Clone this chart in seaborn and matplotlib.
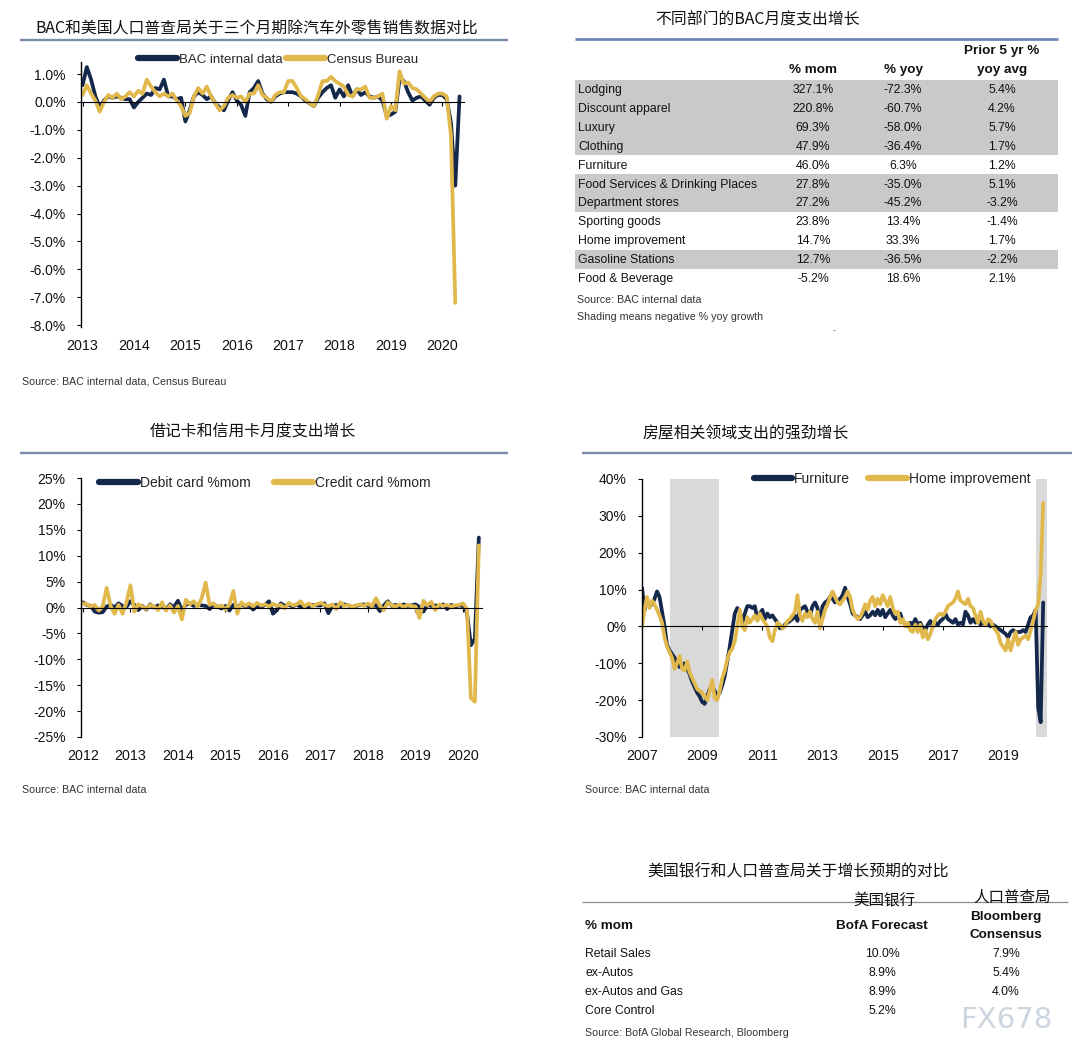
#!/usr/bin/env python3
"""
BAC card spending dashboard: four panels + two small tables, one figure
"""

import numpy as np
import pandas as pd
import matplotlib
matplotlib.use('Agg')
import matplotlib.pyplot as plt
from matplotlib.patches import Rectangle
import seaborn as sns

# ---------------- data ----------------
# panel 1: 3m ex-autos retail sales, Jan 2013 onwards, monthly (%)
bac_3m = [0.6, 1.25, 0.8, 0.2, -0.2, 0.05, 0.2, 0.15, 0.2, 0.15, 0.1, 0.1,
          -0.2, 0.0, 0.15, 0.3, 0.25, 0.5, 0.45, 0.8, 0.2, 0.2, 0.1, 0.15,
          -0.7, -0.3, 0.2, 0.35, 0.25, 0.1, 0.2, -0.05, -0.2, -0.3, 0.05, 0.35,
          0.05, -0.1, -0.5, 0.35, 0.5, 0.75, 0.3, 0.1, 0.0, 0.2, 0.3, 0.35,
          0.35, 0.35, 0.3, 0.2, 0.05, -0.05, -0.15, 0.15, 0.35, 0.5, 0.6, 0.15,
          0.45, 0.2, 0.6, 0.2, 0.45, 0.25, 0.35, 0.2, 0.15, 0.2, 0.05, -0.5,
          -0.45, -0.35, 0.8, 0.75, 0.35, 0.05, 0.15, 0.2, 0.05, -0.1, 0.15, 0.25,
          0.25, 0.1, -0.75, -3.0, 0.2]
census_3m = [0.25, 0.6, 0.3, 0.05, -0.35, 0.0, 0.25, 0.15, 0.3, 0.1, 0.2, 0.35,
             0.2, 0.4, 0.3, 0.8, 0.55, 0.35, 0.2, 0.3, 0.2, 0.3, 0.05, -0.15,
             -0.5, -0.4, 0.2, 0.5, 0.3, 0.55, 0.2, -0.05, -0.3, -0.15, 0.15, 0.25,
             0.15, 0.2, 0.0, 0.3, 0.3, 0.6, 0.25, 0.15, 0.0, 0.25, 0.35, 0.35,
             0.75, 0.75, 0.5, 0.2, 0.1, -0.05, -0.15, 0.25, 0.75, 0.75, 0.9, 0.75,
             0.65, 0.55, 0.25, 0.2, 0.45, 0.45, 0.55, 0.15, 0.15, 0.2, 0.3, -0.6,
             -0.15, -0.3, 1.1, 0.65, 0.7, 0.5, 0.45, 0.3, 0.15, 0.0, 0.2, 0.3,
             0.3, 0.2, -1.2, -7.2]
p1_years = list(range(2013, 2021))

# panel 3: card spending %mom, Jan 2012 onwards
debit_mom = [1.0, 0.5, 0.3, -0.8, -1.0, -0.9, 0.2, 0.5, 0.0, 0.8, 0.3, 0.1,
             1.2, 0.5, -0.5, 0.3, -0.4, 0.6, 0.0, 0.4, 0.2, -0.4, 0.6, 0.1,
             1.3, -0.5, 0.5, 0.8, 0.3, 0.6, 0.4, 0.3, -0.3, 0.5, 0.2, -0.2,
             0.3, -0.6, 0.5, 0.0, 0.6, 0.2, 0.4, -0.4, 0.3, 0.1, 0.5, 1.2,
             -1.2, -0.5, 0.8, 0.3, 0.5, 0.2, 0.6, 0.1, 0.3, 0.2, 0.5, 0.4,
             0.4, 0.8, -1.1, 0.3, 0.5, 0.2, 0.6, 0.4, 0.1, 0.3, 0.5, 0.6,
             0.3, 0.2, 0.5, -0.7, 0.4, 1.2, 0.3, 0.5, 0.2, 0.6, 0.3, 0.4,
             0.6, 0.1, -0.8, 0.5, 0.3, 0.4, 0.2, 0.6, -0.3, 0.5, 0.2, 0.4,
             0.3, -1.0, -7.3, -6.0, 13.5]
credit_mom = [0.8, 0.6, 0.2, 0.5, -0.6, 0.2, 3.8, 0.3, -1.2, 0.5, -1.2, 1.0,
              4.3, -0.8, 0.6, 0.2, -0.3, 0.5, 0.2, -0.5, 1.0, -0.6, 0.4, -1.0,
              0.3, -2.3, 1.5, 0.6, 1.2, 0.2, 1.8, 4.8, 0.5, 0.8, 0.0, 0.4,
              -0.4, 0.6, 3.2, -1.2, 1.0, 0.3, 0.8, 0.2, 0.9, 0.4, 0.6, 0.2,
              0.7, 0.3, 0.5, -0.2, 0.9, 0.4, 0.6, 1.2, 0.2, 0.8, 0.3, 0.6,
              0.9, 0.5, 0.2, 0.6, -0.3, 1.0, 0.3, 0.5, 0.1, 0.4, 0.6, 0.3,
              0.8, 0.2, 1.8, 0.3, -0.5, 1.0, 0.4, 0.2, 0.6, 0.1, 0.5, 0.3,
              0.2, -2.0, 1.3, 0.4, 1.1, -0.5, 0.6, 0.3, 0.5, 0.2, 0.4, 0.5,
              0.8, -0.3, -17.5, -18.2, 12.0]
p3_years = list(range(2012, 2021))

# panel 4: housing related spending %yoy, Jan 2007 onwards
furniture_yoy = [10.5, 4.5, 7.0, 5.5, 6.0, 7.5, 9.5, 8.0, 4.0, 0.0, -5.0, -6.5,
                 -7.5, -8.5, -10.0, -11.0, -10.5, -10.0, -11.5, -13.0, -15.0, -16.5, -18.0, -19.0,
                 -20.5, -21.0, -19.0, -17.0, -16.5, -17.5, -19.0, -18.0, -16.0, -13.5, -9.5, -5.5,
                 -1.0, 3.5, 5.0, 4.0, 1.0, 3.5, 5.5, 5.5, 5.0, 5.5, 2.0, 3.5,
                 4.5, 2.0, 3.5, 2.5, 3.0, 2.0, 1.0, -0.5, -0.5, 0.5, 1.0, 1.5,
                 2.0, 3.0, 1.5, 4.5, 5.0, 5.5, 4.0, 3.0, 5.5, 6.5, 5.0, 0.5,
                 5.5, 6.5, 7.0, 8.0, 7.5, 6.5, 7.0, 7.5, 8.5, 10.5, 8.0, 6.0,
                 3.5, 3.0, 2.5, 2.0, 3.0, 4.0, 2.5, 3.0, 4.0, 3.0, 4.5, 3.0,
                 4.5, 2.5, 3.5, 4.5, 3.0, 2.0, 2.5, 3.5, 1.5, 0.5, 0.0, 1.0,
                 0.5, 2.0, 0.5, 1.0, -0.5, -1.0, 0.5, 1.5, 0.0, 1.0, 0.5, 1.5,
                 2.0, 3.5, 2.0, 1.5, 1.0, 2.0, 0.5, 1.0, 0.5, 4.0, 3.0, 1.0,
                 2.0, 1.0, 2.5, 0.5, 1.0, 0.5, 1.0, 0.0, 0.5, 0.0, -0.5, -1.0,
                 -1.5, -2.0, -3.0, -1.5, -1.0, -1.5, -1.5, -1.5, -1.0, -1.5, 0.5, 2.5,
                 3.0, 4.5, -22.0, -26.0, 6.5]
home_impr_yoy = [0.0, 4.5, 8.0, 5.0, 7.0, 6.0, 4.5, 3.0, 1.0, -3.0, -5.5, -7.0,
                 -8.5, -11.5, -10.0, -8.0, -11.5, -12.0, -9.5, -12.5, -14.0, -15.5, -17.0, -17.5,
                 -18.0, -19.0, -20.0, -17.5, -14.5, -19.5, -20.0, -17.5, -14.0, -12.0, -9.0, -7.0,
                 -6.0, -4.0, 0.0, 4.5, 0.0, -1.0, 2.5, 1.0, 2.0, 3.0, 1.5, 3.5,
                 2.0, 1.0, 0.0, -3.0, -4.0, -1.0, 1.0, 0.5, -0.5, 0.0, 1.5, 2.0,
                 3.0, 4.0, 8.5, 3.0, 1.5, 3.5, 2.5, 4.0, 2.0, 1.0, 4.0, -0.5,
                 2.0, 4.5, 6.0, 8.0, 9.5, 8.0, 6.5, 6.0, 7.0, 8.0, 9.5, 8.0,
                 4.5, 3.0, 2.0, 2.5, 4.0, 6.0, 4.5, 7.0, 8.0, 5.5, 7.5, 6.0,
                 8.5, 7.0, 5.5, 8.0, 5.0, 3.5, 4.0, 1.0, 2.0, 0.0, 1.0, -1.0,
                 -1.5, 0.5, -1.5, 0.5, -3.0, -1.0, -3.5, -2.0, 0.0, 2.0, 3.0, 3.5,
                 3.0, 4.0, 5.5, 6.0, 6.5, 7.5, 9.5, 7.0, 6.5, 6.0, 7.5, 5.5,
                 5.0, 3.0, 1.0, 4.0, 1.5, 0.5, 2.0, 1.5, 0.0, -1.0, -2.0, -4.5,
                 -5.5, -6.5, -3.5, -6.5, -4.0, -1.5, -5.0, -3.5, -3.0, -2.5, -3.5, -1.0,
                 1.5, 4.5, 6.0, 14.0, 33.5]
p4_years = list(range(2007, 2021, 2))
recession_start = [2007 + 11 / 12, 2020 + 1.3 / 12]
recession_end = [2009 + 6.6 / 12, 2020.46]

# table: BAC monthly spending by sector
sectors = ['Lodging', 'Discount apparel', 'Luxury', 'Clothing', 'Furniture',
           'Food Services & Drinking Places', 'Department stores', 'Sporting goods',
           'Home improvement', 'Gasoline Stations', 'Food & Beverage']
sector_mom = [327.1, 220.8, 69.3, 47.9, 46.0, 27.8, 27.2, 23.8, 14.7, 12.7, -5.2]
sector_yoy = [-72.3, -60.7, -58.0, -36.4, 6.3, -35.0, -45.2, 13.4, 33.3, -36.5, 18.6]
sector_5yr = [5.4, 4.2, 5.7, 1.7, 1.2, 5.1, -3.2, -1.4, 1.7, -2.2, 2.1]

# table: forecasts
fc_rows = ['Retail Sales', 'ex-Autos', 'ex-Autos and Gas', 'Core Control']
fc_bofa = [10.0, 8.9, 8.9, 5.2]
fc_consensus = [7.9, 5.4, 4.0, None]

# ---------------- style ----------------
W, H = 1090, 1055
NAVY = '#14284b'
GOLD = '#e0b84c'
RULE = '#7c8cae'
SHADE = '#c9c9c9'
CJK = ['Noto Sans CJK SC', 'DejaVu Sans']
SANS = ['Liberation Sans', 'DejaVu Sans']

sns.set_theme(style='white')
plt.rcParams['font.family'] = SANS
plt.rcParams['axes.unicode_minus'] = False


def box(x0, y0, x1, y1):
    """pixel box (top-left origin) -> figure fraction rect"""
    return [x0 / W, 1 - y1 / H, (x1 - x0) / W, (y1 - y0) / H]


def monthly(start, values):
    return start + np.arange(len(values)) / 12.0


def line_panel(fig, rect, start, series, labels, xlim, ylim, years, yticks, ylabels,
               legend_center, legend_gap, legend_size, handle_len):
    ax = fig.add_axes(rect)
    frames = [pd.DataFrame({'t': monthly(start, v), 'value': v, 'series': lab})
              for v, lab in zip(series, labels)]
    df = pd.concat(frames, ignore_index=True)
    sns.lineplot(data=df, x='t', y='value', hue='series', hue_order=labels,
                 palette=[NAVY, GOLD], linewidth=2.7, estimator=None, errorbar=None,
                 sort=False, legend=False, ax=ax)
    ax.set_xlim(*xlim)
    ax.set_ylim(*ylim)
    ax.set_xlabel('')
    ax.set_ylabel('')
    ax.grid(False)
    for s in ['top', 'right']:
        ax.spines[s].set_visible(False)
    ax.spines['left'].set_color('black')
    ax.spines['left'].set_linewidth(1.0)
    # zero line acts as the x axis, labels sit at the bottom
    ax.spines['bottom'].set_position(('data', 0))
    ax.spines['bottom'].set_color('black')
    ax.spines['bottom'].set_linewidth(0.8)
    ax.set_xticks(years)
    ax.tick_params(axis='x', bottom=True, direction='out', length=3, width=0.8,
                   color='black', labelbottom=False)
    sec = ax.secondary_xaxis('bottom')
    sec.set_xticks(years, labels=[str(y) for y in years])
    sec.spines['bottom'].set_visible(False)
    sec.tick_params(length=0, pad=9, labelsize=10.3, labelcolor='#111111')
    ax.set_yticks(yticks, labels=ylabels)
    ax.tick_params(axis='y', left=True, direction='out', length=3, width=0.8,
                   color='black', pad=8, labelsize=10, labelcolor='#111111')
    leg = ax.legend(ax.get_lines()[:2], labels, loc='center',
                    bbox_to_anchor=(legend_center[0] / W, 1 - legend_center[1] / H),
                    bbox_transform=fig.transFigure, ncol=2, frameon=False,
                    handlelength=handle_len, handletextpad=0.12, columnspacing=legend_gap,
                    borderpad=0, borderaxespad=0, prop={'family': SANS, 'size': legend_size})
    for h in leg.get_lines():
        h.set_linewidth(4.5)
    return ax


fig = plt.figure(figsize=(W / 100, H / 100), dpi=100)
fig.patch.set_facecolor('white')

# overlay in pixel space for titles, rules and tables
ov = fig.add_axes([0, 0, 1, 1])
ov.set_xlim(0, W)
ov.set_ylim(H, 0)
ov.axis('off')


def title(x, y, s, ha='left'):
    ov.text(x, y, s, ha=ha, va='center', fontsize=11.4, family=CJK, color='#111111')


def rule(x0, x1, y, color=RULE, lw=1.7):
    ov.plot([x0, x1], [y, y], color=color, lw=lw, solid_capstyle='butt')


def source(x, y, s):
    ov.text(x, y, s, ha='left', va='center', fontsize=7.7, family=SANS, color='#333333')


# ---- panel 1 ----
title(35, 29, 'BAC和美国人口普查局关于三个月期除汽车外零售销售数据对比')
rule(20, 508, 40)
p1_ticks = list(np.arange(1.0, -8.01, -1.0))
line_panel(fig, box(81, 61.5, 464, 326.6), 2013.0, [bac_3m, census_3m],
           ['BAC internal data', 'Census Bureau'], (2012.97, 2020.42), (-8.05, 1.45),
           p1_years, p1_ticks, [f'{v:.1f}%' for v in p1_ticks], (278, 60), 0.25,
           9.5, 3.0)
source(22, 381, 'Source: BAC internal data, Census Bureau')

# ---- panel 3 ----
title(253, 432, '借记卡和信用卡月度支出增长', ha='center')
rule(20, 508, 453)
p3_ticks = list(range(25, -26, -5))
line_panel(fig, box(81, 478, 482, 737), 2012.0, [debit_mom, credit_mom],
           ['Debit card %mom', 'Credit card %mom'], (2011.96, 2020.4), (-25, 25),
           p3_years, p3_ticks, [f'{v}%' for v in p3_ticks], (265, 483), 1.7,
           10, 2.8)
source(22, 790, 'Source: BAC internal data')

# ---- panel 4 ----
title(642, 434, '房屋相关领域支出的强劲增长')
rule(582, 1072, 453)
p4_ticks = list(range(40, -31, -10))
ax4 = line_panel(fig, box(642, 479, 1047, 737), 2007.0, [furniture_yoy, home_impr_yoy],
                 ['Furniture', 'Home improvement'], (2007.0, 2020.46), (-30, 40),
                 p4_years, p4_ticks, [f'{v}%' for v in p4_ticks], (892, 479), 1.3,
                 10, 2.8)
for a, b in zip(recession_start, recession_end):
    ax4.axvspan(a, b, color='#d9d9d9', lw=0, zorder=0)
source(585, 790, 'Source: BAC internal data')

# ---- table: sector spending ----
title(655, 20, '不同部门的BAC月度支出增长')
rule(575, 1058, 39, color='#6f86b6', lw=2.0)
col_x = [813, 903, 1002]
hdr = dict(ha='center', va='center', fontsize=9.7, fontweight='bold', color='#111111')
ov.text(col_x[0], 70, '% mom', **hdr)
ov.text(col_x[1], 70, '% yoy', **hdr)
ov.text(col_x[2], 51, 'Prior 5 yr %', **hdr)
ov.text(col_x[2], 70, 'yoy avg', **hdr)
row_top, row_h = 79.5, 18.95
for i, name in enumerate(sectors):
    y0 = row_top + i * row_h
    yc = y0 + row_h / 2 + 0.8
    if sector_yoy[i] < 0:
        ov.add_patch(Rectangle((575, y0), 483, row_h, color=SHADE, lw=0, zorder=0))
    cell = dict(va='center', fontsize=8.8, color='#111111', zorder=2)
    ov.text(578, yc, name, ha='left', **cell)
    for x, v in zip(col_x, [sector_mom[i], sector_yoy[i], sector_5yr[i]]):
        ov.text(x, yc, f'{v:.1f}%', ha='center', **cell)
source(577, 300, 'Source: BAC internal data')
source(577, 317, 'Shading means negative % yoy growth')
ov.text(834, 331, '-', ha='center', va='center', fontsize=6, color='#333333')

# ---- table: forecasts ----
title(647, 872, '美国银行和人口普查局关于增长预期的对比')
rule(582, 1068, 902, color='#8a8a8a', lw=0.9)
ov.text(884, 901, '美国银行', ha='center', va='center', fontsize=11.2, family=CJK, color='#111111')
ov.text(1012, 897, '人口普查局', ha='center', va='center', fontsize=11.2, family=CJK, color='#111111')
ov.text(585, 926, '% mom', ha='left', **{k: v for k, v in hdr.items() if k != 'ha'})
ov.text(882, 926, 'BofA Forecast', **hdr)
ov.text(1006, 917, 'Bloomberg', **hdr)
ov.text(1006, 935, 'Consensus', **hdr)
for i, name in enumerate(fc_rows):
    yc = 954 + i * 19
    cell = dict(va='center', fontsize=8.8, color='#111111')
    ov.text(585, yc, name, ha='left', **cell)
    ov.text(882, yc, f'{fc_bofa[i]:.1f}%', ha='center', **cell)
    if fc_consensus[i] is not None:
        ov.text(1006, yc, f'{fc_consensus[i]:.1f}%', ha='center', **cell)
source(585, 1033, 'Source: BofA Global Research, Bloomberg')

# watermark
ov.text(1006, 1020, 'FX678', ha='center', va='center', fontsize=21, family=['DejaVu Sans'],
        color='#cdd5e0', zorder=5)

fig.savefig('out.png', dpi=100, facecolor='white')
plt.close(fig)
